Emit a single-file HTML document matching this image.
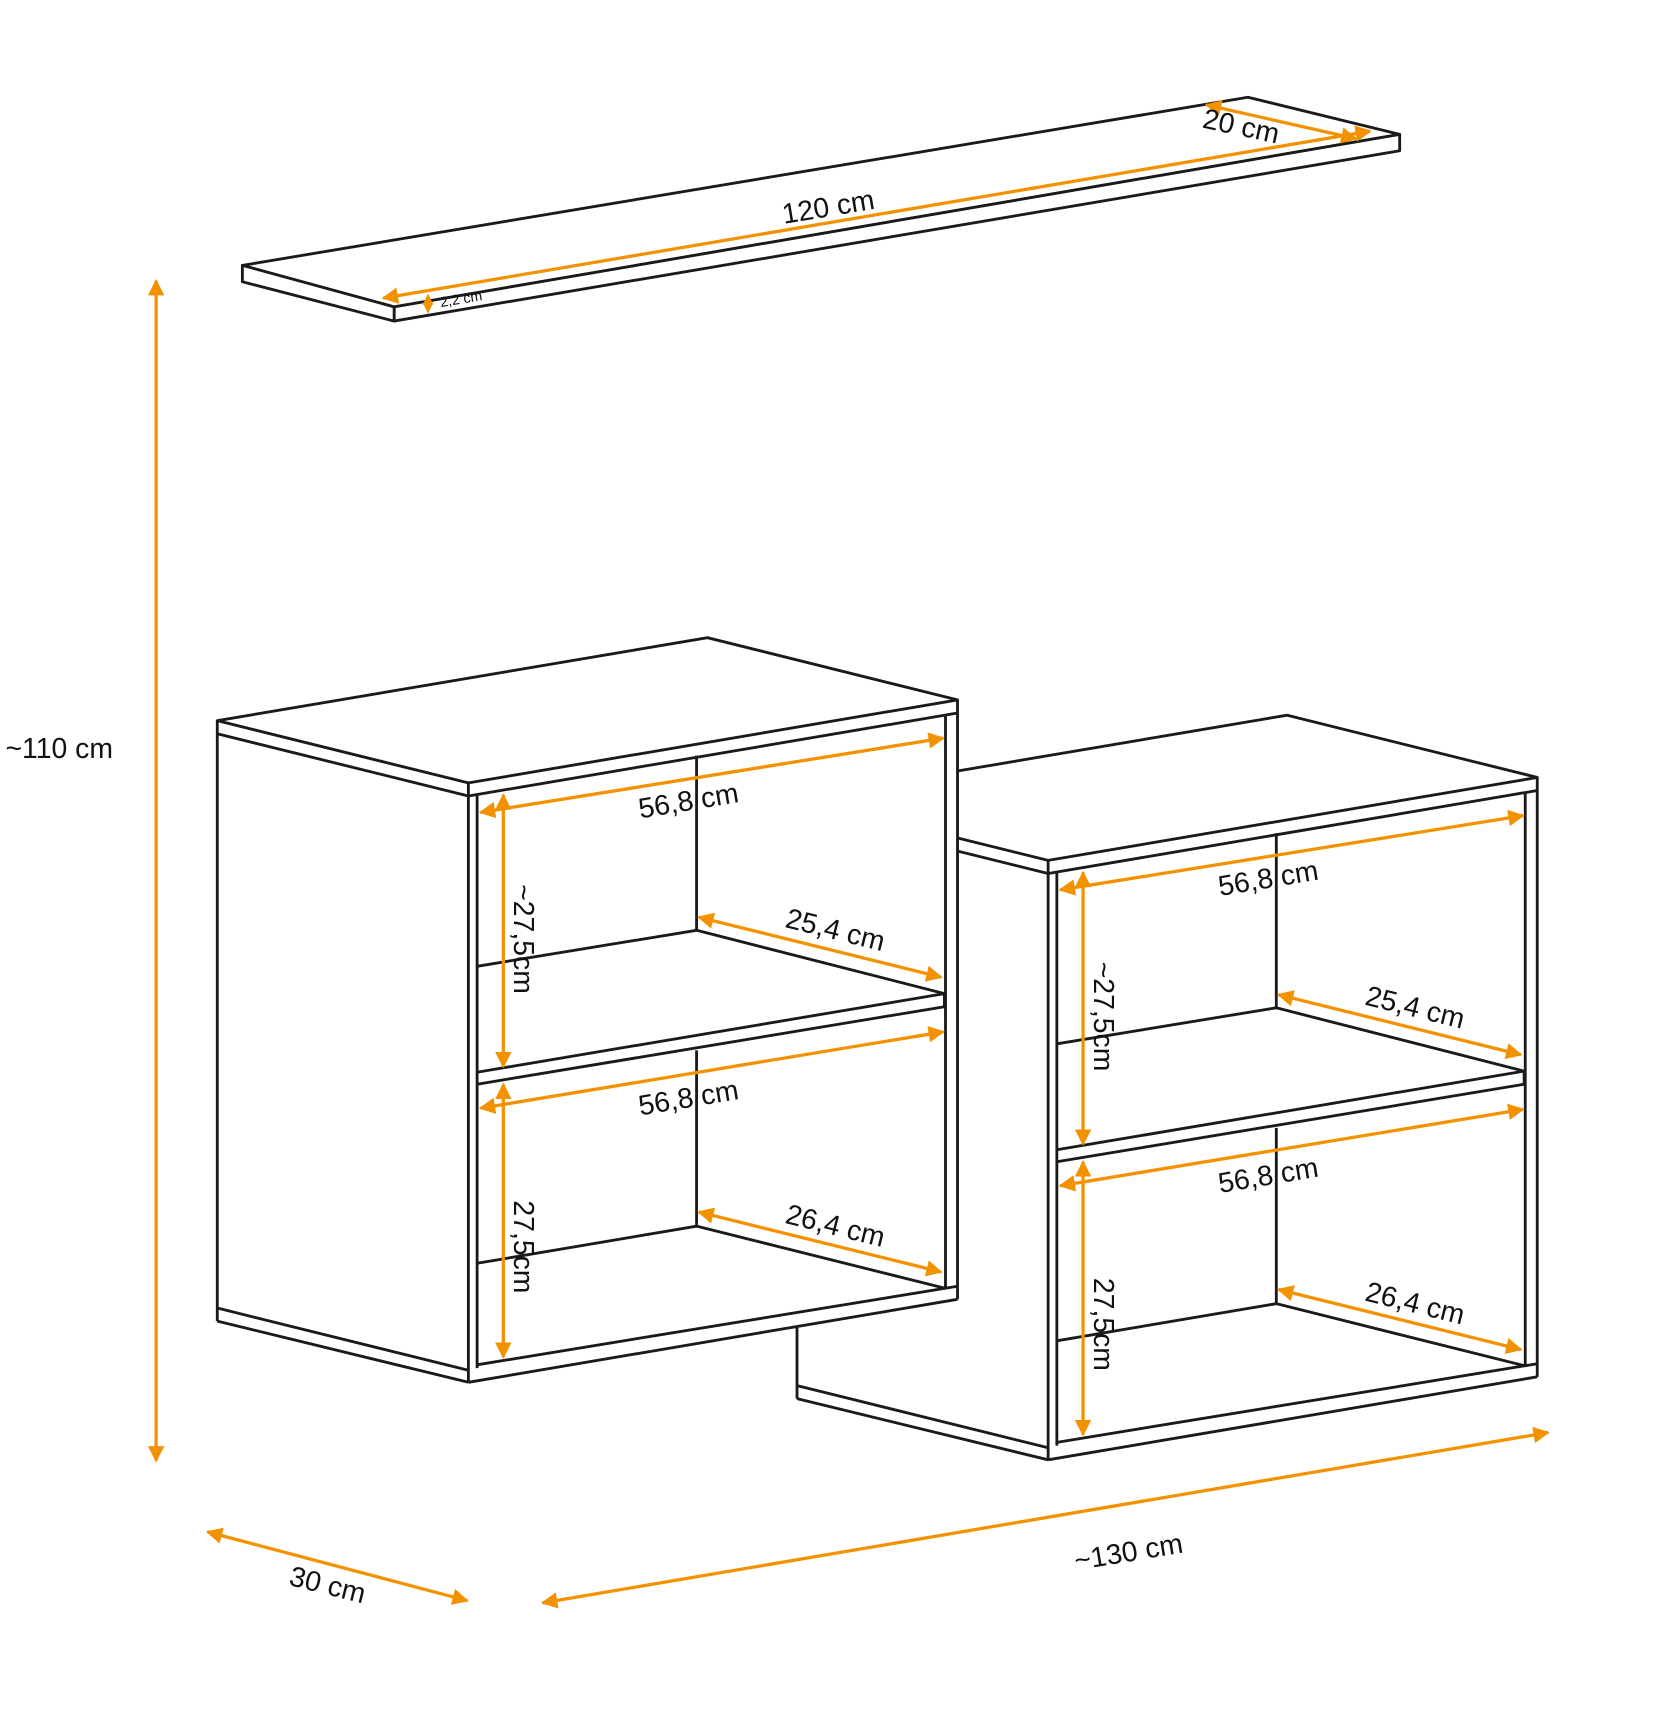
<!DOCTYPE html>
<html><head><meta charset="utf-8"><style>
html,body{margin:0;padding:0;background:#fff;}
svg{display:block;}
text{font-family:"Liberation Sans",Arial,sans-serif;fill:#111;}
</style></head><body>
<svg width="1677" height="1711" viewBox="0 0 1536 1567" xmlns="http://www.w3.org/2000/svg">
<defs>
<marker id="a" viewBox="0 0 10 10" refX="9" refY="5" markerWidth="5.5" markerHeight="5" orient="auto-start-reverse"><path d="M0,0 L10,5 L0,10 z" fill="#f39200"/></marker>
<g id="cab" fill="none" stroke="#1a1a1a" stroke-width="2.6" stroke-linejoin="round">
<polygon points="199,660 648,584 877,641 877,1190 429,1266 199,1210" fill="#fff" stroke="none"/>
<polygon points="199,660 648,584 877,641 429,717"/>
<line x1="199" y1="672" x2="429" y2="729"/>
<line x1="429" y1="729" x2="877" y2="653"/>
<line x1="199" y1="660" x2="199" y2="1210"/>
<line x1="429" y1="717" x2="429" y2="1266"/>
<line x1="877" y1="641" x2="877" y2="1190"/>
<line x1="437" y1="728" x2="437" y2="1253"/>
<line x1="866" y1="655" x2="866" y2="1180"/>
<line x1="199" y1="1198" x2="429" y2="1255"/>
<line x1="199" y1="1210" x2="429" y2="1266"/>
<line x1="429" y1="1266" x2="877" y2="1190"/>
<line x1="437" y1="1250" x2="877" y2="1178"/>
<line x1="638" y1="692" x2="638" y2="852"/>
<polyline points="437,885 638,852 865,910"/>
<polyline points="437,982 865,910 865,922 437,993"/>
<line x1="638" y1="962" x2="638" y2="1123"/>
<polyline points="437,1157 638,1123 866,1180"/>
</g>
<g id="dims" fill="none" stroke="#f39200" stroke-width="3" marker-start="url(#a)" marker-end="url(#a)">
<line x1="440" y1="744" x2="864" y2="676"/>
<line x1="461" y1="728" x2="461" y2="977"/>
<line x1="640" y1="840" x2="862" y2="895"/>
<line x1="440" y1="1015" x2="864" y2="945"/>
<line x1="461" y1="993" x2="461" y2="1243"/>
<line x1="640" y1="1110" x2="862" y2="1165"/>
</g>
<g id="lbl" font-size="26">
<text transform="translate(632,742) rotate(-9.5)" text-anchor="middle" style="font-family:'Liberation Sans',sans-serif">56,8 cm</text>
<text transform="translate(471,860) rotate(90)" text-anchor="middle" style="font-family:'Liberation Sans',sans-serif">~27,5cm</text>
<text transform="translate(763,860) rotate(14)" text-anchor="middle" style="font-family:'Liberation Sans',sans-serif">25,4 cm</text>
<text transform="translate(632,1014) rotate(-9.5)" text-anchor="middle" style="font-family:'Liberation Sans',sans-serif">56,8 cm</text>
<text transform="translate(471,1142) rotate(90)" text-anchor="middle" style="font-family:'Liberation Sans',sans-serif">27,5cm</text>
<text transform="translate(763,1131) rotate(14)" text-anchor="middle" style="font-family:'Liberation Sans',sans-serif">26,4 cm</text>
</g>
</defs>

<g fill="#fff" stroke="#1a1a1a" stroke-width="2.6" stroke-linejoin="round">
<polygon points="222,243 1143,89 1282,123 361,281"/>
<polygon points="361,281 1282,123 1282,138 361,294"/>
<polygon points="222,243 361,281 361,294 222,258"/>
</g>
<g stroke="#f39200" stroke-width="3" fill="none">
<line x1="351" y1="273" x2="1255" y2="120" marker-start="url(#a)" marker-end="url(#a)"/>
<line x1="1105" y1="96" x2="1242" y2="127" marker-start="url(#a)" marker-end="url(#a)"/>
<line x1="392" y1="270" x2="392" y2="286" stroke-width="2" marker-start="url(#a)" marker-end="url(#a)"/>
</g>
<text transform="translate(760,198) rotate(-9.5)" text-anchor="middle" font-size="26">120 cm</text>
<text transform="translate(1135,124) rotate(12)" text-anchor="middle" font-size="26">20 cm</text>
<text transform="translate(423,278) rotate(-9.5)" text-anchor="middle" font-size="13">2,2 cm</text>

<line x1="143" y1="257" x2="143" y2="1338" stroke="#f39200" stroke-width="3" marker-start="url(#a)" marker-end="url(#a)"/>
<text x="5" y="694" font-size="26">~110 cm</text>

<g transform="translate(531,71)">
<use href="#cab"/><use href="#dims"/><use href="#lbl"/>
</g>
<use href="#cab"/><use href="#dims"/><use href="#lbl"/>

<g stroke="#f39200" stroke-width="3" fill="none">
<line x1="190" y1="1403" x2="428" y2="1466" marker-start="url(#a)" marker-end="url(#a)"/>
<line x1="497" y1="1468" x2="1418" y2="1312" marker-start="url(#a)" marker-end="url(#a)"/>
</g>
<text transform="translate(298,1460) rotate(14)" text-anchor="middle" font-size="26">30 cm</text>
<text transform="translate(1035,1430) rotate(-9.5)" text-anchor="middle" font-size="26">~130 cm</text>
</svg>
</body></html>
